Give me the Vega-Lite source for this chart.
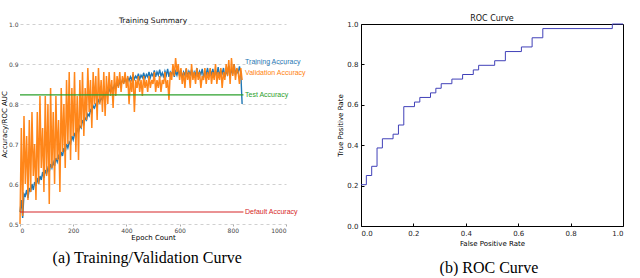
{
  "$schema": "https://vega.github.io/schema/vega-lite/v6.json",
  "background": "white",
  "padding": {"left": 0, "top": 14, "right": 4, "bottom": 0},
  "config": {
    "font": "DejaVu Sans",
    "title": {"font": "DejaVu Sans", "fontWeight": "normal", "color": "#111"},
    "axis": {"labelFont": "DejaVu Sans", "titleFont": "DejaVu Sans", "titleFontWeight": "normal", "labelOverlap": false}
  },
  "datasets": {
    "one": [{}],
    "curve": [
      {"e":0,"t":0.530,"v":0.50},{"e":5,"t":0.560,"v":0.74},{"e":10,"t":0.515,"v":0.52},{"e":15,"t":0.575,"v":0.77},
      {"e":20,"t":0.570,"v":0.60},{"e":25,"t":0.585,"v":0.72},{"e":30,"t":0.565,"v":0.56},{"e":35,"t":0.590,"v":0.76},
      {"e":40,"t":0.580,"v":0.58},{"e":45,"t":0.600,"v":0.78},{"e":50,"t":0.585,"v":0.62},{"e":55,"t":0.605,"v":0.70},
      {"e":60,"t":0.595,"v":0.56},{"e":65,"t":0.615,"v":0.78},{"e":70,"t":0.600,"v":0.60},{"e":75,"t":0.620,"v":0.82},
      {"e":80,"t":0.610,"v":0.64},{"e":85,"t":0.630,"v":0.74},{"e":90,"t":0.615,"v":0.58},{"e":95,"t":0.635,"v":0.82},
      {"e":100,"t":0.625,"v":0.62},{"e":105,"t":0.640,"v":0.80},{"e":110,"t":0.630,"v":0.55},{"e":115,"t":0.650,"v":0.84},
      {"e":120,"t":0.640,"v":0.64},{"e":125,"t":0.655,"v":0.78},{"e":130,"t":0.645,"v":0.60},{"e":135,"t":0.665,"v":0.82},
      {"e":140,"t":0.655,"v":0.66},{"e":145,"t":0.670,"v":0.76},{"e":150,"t":0.660,"v":0.58},{"e":155,"t":0.680,"v":0.84},
      {"e":160,"t":0.670,"v":0.68},{"e":165,"t":0.690,"v":0.80},{"e":170,"t":0.680,"v":0.64},{"e":175,"t":0.700,"v":0.86},
      {"e":180,"t":0.690,"v":0.70},{"e":185,"t":0.705,"v":0.88},{"e":190,"t":0.700,"v":0.66},{"e":195,"t":0.720,"v":0.84},
      {"e":200,"t":0.710,"v":0.72},{"e":205,"t":0.725,"v":0.88},{"e":210,"t":0.720,"v":0.68},{"e":215,"t":0.740,"v":0.82},
      {"e":220,"t":0.730,"v":0.66},{"e":225,"t":0.745,"v":0.86},{"e":230,"t":0.740,"v":0.74},{"e":235,"t":0.760,"v":0.88},
      {"e":240,"t":0.750,"v":0.72},{"e":245,"t":0.765,"v":0.84},{"e":250,"t":0.760,"v":0.76},{"e":255,"t":0.775,"v":0.89},
      {"e":260,"t":0.770,"v":0.78},{"e":265,"t":0.785,"v":0.86},{"e":270,"t":0.780,"v":0.74},{"e":275,"t":0.795,"v":0.88},
      {"e":280,"t":0.790,"v":0.80},{"e":285,"t":0.800,"v":0.87},{"e":290,"t":0.795,"v":0.76},{"e":295,"t":0.810,"v":0.89},
      {"e":300,"t":0.805,"v":0.80},{"e":305,"t":0.815,"v":0.86},{"e":310,"t":0.810,"v":0.78},{"e":315,"t":0.825,"v":0.88},
      {"e":320,"t":0.820,"v":0.77},{"e":325,"t":0.830,"v":0.87},{"e":330,"t":0.825,"v":0.80},{"e":335,"t":0.838,"v":0.88},
      {"e":340,"t":0.830,"v":0.82},{"e":345,"t":0.842,"v":0.86},{"e":350,"t":0.836,"v":0.79},{"e":355,"t":0.848,"v":0.88},
      {"e":360,"t":0.840,"v":0.82},{"e":365,"t":0.852,"v":0.87},{"e":370,"t":0.845,"v":0.84},{"e":375,"t":0.856,"v":0.88},
      {"e":380,"t":0.850,"v":0.83},{"e":385,"t":0.860,"v":0.87},{"e":390,"t":0.853,"v":0.85},{"e":395,"t":0.862,"v":0.88},
      {"e":400,"t":0.855,"v":0.84},{"e":405,"t":0.866,"v":0.87},{"e":410,"t":0.858,"v":0.80},{"e":415,"t":0.868,"v":0.86},
      {"e":420,"t":0.860,"v":0.83},{"e":425,"t":0.874,"v":0.88},{"e":430,"t":0.862,"v":0.78},{"e":435,"t":0.870,"v":0.86},
      {"e":440,"t":0.864,"v":0.84},{"e":445,"t":0.876,"v":0.87},{"e":450,"t":0.862,"v":0.83},{"e":455,"t":0.872,"v":0.86},
      {"e":460,"t":0.866,"v":0.82},{"e":465,"t":0.878,"v":0.87},{"e":470,"t":0.864,"v":0.84},{"e":475,"t":0.874,"v":0.86},
      {"e":480,"t":0.868,"v":0.83},{"e":485,"t":0.880,"v":0.87},{"e":490,"t":0.866,"v":0.84},{"e":495,"t":0.876,"v":0.86},
      {"e":500,"t":0.870,"v":0.85},{"e":505,"t":0.884,"v":0.88},{"e":510,"t":0.868,"v":0.83},{"e":515,"t":0.880,"v":0.86},
      {"e":520,"t":0.872,"v":0.84},{"e":525,"t":0.886,"v":0.87},{"e":530,"t":0.870,"v":0.83},{"e":535,"t":0.878,"v":0.86},
      {"e":540,"t":0.866,"v":0.85},{"e":545,"t":0.882,"v":0.88},{"e":550,"t":0.872,"v":0.84},{"e":555,"t":0.888,"v":0.86},
      {"e":560,"t":0.868,"v":0.81},{"e":565,"t":0.880,"v":0.88},{"e":570,"t":0.874,"v":0.86},{"e":575,"t":0.884,"v":0.90},
      {"e":580,"t":0.868,"v":0.87},{"e":585,"t":0.882,"v":0.915},{"e":590,"t":0.872,"v":0.88},{"e":595,"t":0.886,"v":0.90},
      {"e":600,"t":0.870,"v":0.86},{"e":605,"t":0.884,"v":0.89},{"e":610,"t":0.866,"v":0.85},{"e":615,"t":0.880,"v":0.88},
      {"e":620,"t":0.872,"v":0.84},{"e":625,"t":0.888,"v":0.89},{"e":630,"t":0.868,"v":0.86},{"e":635,"t":0.882,"v":0.88},
      {"e":640,"t":0.874,"v":0.84},{"e":645,"t":0.886,"v":0.90},{"e":650,"t":0.866,"v":0.86},{"e":655,"t":0.880,"v":0.88},
      {"e":660,"t":0.872,"v":0.85},{"e":665,"t":0.890,"v":0.89},{"e":670,"t":0.868,"v":0.86},{"e":675,"t":0.882,"v":0.88},
      {"e":680,"t":0.874,"v":0.84},{"e":685,"t":0.888,"v":0.87},{"e":690,"t":0.866,"v":0.86},{"e":695,"t":0.880,"v":0.89},
      {"e":700,"t":0.874,"v":0.85},{"e":705,"t":0.890,"v":0.88},{"e":710,"t":0.870,"v":0.86},{"e":715,"t":0.884,"v":0.89},
      {"e":720,"t":0.874,"v":0.85},{"e":725,"t":0.888,"v":0.88},{"e":730,"t":0.868,"v":0.86},{"e":735,"t":0.882,"v":0.90},
      {"e":740,"t":0.874,"v":0.85},{"e":745,"t":0.892,"v":0.88},{"e":750,"t":0.870,"v":0.86},{"e":755,"t":0.884,"v":0.89},
      {"e":760,"t":0.876,"v":0.84},{"e":765,"t":0.890,"v":0.88},{"e":770,"t":0.868,"v":0.86},{"e":775,"t":0.882,"v":0.90},
      {"e":780,"t":0.874,"v":0.87},{"e":785,"t":0.896,"v":0.91},{"e":790,"t":0.870,"v":0.85},{"e":795,"t":0.886,"v":0.915},
      {"e":800,"t":0.876,"v":0.87},{"e":805,"t":0.900,"v":0.90},{"e":810,"t":0.872,"v":0.86},{"e":815,"t":0.888,"v":0.89},
      {"e":820,"t":0.876,"v":0.88},{"e":825,"t":0.894,"v":0.85},{"e":830,"t":0.880,"v":0.89},{"e":835,"t":0.800,"v":0.86}
    ],
    "roc": [
      {"fpr":0.0,"tpr":0.2045},{"fpr":0.0204,"tpr":0.25},{"fpr":0.0408,"tpr":0.2955},{"fpr":0.0612,"tpr":0.3864},
      {"fpr":0.0816,"tpr":0.4318},{"fpr":0.1224,"tpr":0.4545},{"fpr":0.1429,"tpr":0.5},{"fpr":0.1633,"tpr":0.5909},
      {"fpr":0.2041,"tpr":0.6136},{"fpr":0.2245,"tpr":0.6364},{"fpr":0.2653,"tpr":0.6591},{"fpr":0.2857,"tpr":0.6818},
      {"fpr":0.3061,"tpr":0.7045},{"fpr":0.3469,"tpr":0.7273},{"fpr":0.3878,"tpr":0.75},{"fpr":0.4286,"tpr":0.7727},
      {"fpr":0.449,"tpr":0.7955},{"fpr":0.5102,"tpr":0.8182},{"fpr":0.551,"tpr":0.8636},{"fpr":0.6122,"tpr":0.8864},
      {"fpr":0.6531,"tpr":0.9318},{"fpr":0.6939,"tpr":0.9773},{"fpr":0.9592,"tpr":1.0},{"fpr":1.0,"tpr":1.0}
    ]
  },
  "hconcat": [
    {
      "title": {"text": "(a) Training/Validation Curve", "orient": "bottom", "anchor": "middle", "font": "Liberation Serif", "fontSize": 16, "color": "#000", "offset": 10, "dx": -6},
      "vconcat": [
        {
          "width": 266,
          "height": 200,
          "view": {"stroke": null},
          "title": {"text": "Training Summary", "fontSize": 7.5, "offset": -3, "frame": "group"},
          "layer": [
            {
              "data": {"name": "curve"},
              "mark": {"type": "line", "color": "#1f77b4", "strokeWidth": 1.4},
              "encoding": {
                "x": {"field": "e", "type": "quantitative", "scale": {"domain": [0, 1000], "nice": false},
                      "axis": {"values": [0, 200, 400, 600, 800, 1000], "tickCount": 10, "format": "d", "title": "Epoch Count", "titleFontSize": 7, "titlePadding": 0, "labelFontSize": 6, "labelColor": "#444", "domain": false, "grid": false, "tickSize": 2, "tickColor": "#aaa", "labelPadding": 1, "labelOverlap": false}},
                "y": {"field": "t", "type": "quantitative", "scale": {"domain": [0.5, 1.0], "nice": false, "zero": false},
                      "axis": {"values": [0.5, 0.6, 0.7, 0.8, 0.9, 1.0], "tickCount": 10, "format": ".1f", "title": "Accuracy/ROC AUC", "titleFontSize": 7, "titlePadding": 1, "labelFontSize": 6, "labelColor": "#444", "domain": false, "ticks": false, "labelPadding": 2, "labelOverlap": false, "grid": true, "gridDash": [3, 3], "gridColor": "#d0d0d0"}}
              }
            },
            {
              "data": {"name": "curve"},
              "mark": {"type": "line", "color": "#ff7f0e", "strokeWidth": 1.5, "opacity": 0.95},
              "encoding": {
                "x": {"field": "e", "type": "quantitative"},
                "y": {"field": "v", "type": "quantitative"}
              }
            },
            {
              "data": {"name": "one"},
              "mark": {"type": "rule", "color": "#2ca02c", "strokeWidth": 1.2},
              "encoding": {"x": {"datum": 0}, "x2": {"datum": 840}, "y": {"datum": 0.823}}
            },
            {
              "data": {"name": "one"},
              "mark": {"type": "rule", "color": "#d62728", "strokeWidth": 1.2},
              "encoding": {"x": {"datum": 0}, "x2": {"datum": 840}, "y": {"datum": 0.53}}
            },
            {
              "data": {"name": "one"},
              "mark": {"type": "text", "text": "Training Accuracy", "align": "left", "baseline": "middle", "font": "Liberation Sans", "fontSize": 7, "color": "#1f77b4"},
              "encoding": {"x": {"datum": 846}, "y": {"datum": 0.905}}
            },
            {
              "data": {"name": "one"},
              "mark": {"type": "text", "text": "Validation Accuracy", "align": "left", "baseline": "middle", "font": "Liberation Sans", "fontSize": 7, "color": "#ff7f0e"},
              "encoding": {"x": {"datum": 846}, "y": {"datum": 0.878}}
            },
            {
              "data": {"name": "one"},
              "mark": {"type": "text", "text": "Test Accuracy", "align": "left", "baseline": "middle", "font": "Liberation Sans", "fontSize": 7, "color": "#2ca02c"},
              "encoding": {"x": {"datum": 846}, "y": {"datum": 0.823}}
            },
            {
              "data": {"name": "one"},
              "mark": {"type": "text", "text": "Default Accuracy", "align": "left", "baseline": "middle", "font": "Liberation Sans", "fontSize": 7, "color": "#d62728"},
              "encoding": {"x": {"datum": 846}, "y": {"datum": 0.53}}
            }
          ]
        }
      ]
    },
    {
      "title": {"text": "(b) ROC Curve", "orient": "bottom", "anchor": "middle", "font": "Liberation Serif", "fontSize": 16, "color": "#000", "offset": 13, "dx": 8},
      "vconcat": [
        {
          "width": 262,
          "height": 202,
          "view": {"stroke": "#000", "strokeWidth": 1},
          "title": {"text": "ROC Curve", "fontSize": 8, "offset": -3, "frame": "group"},
          "data": {"name": "roc"},
          "mark": {"type": "line", "interpolate": "step-after", "color": "#4040b8", "strokeWidth": 1},
          "encoding": {
            "x": {"field": "fpr", "type": "quantitative", "scale": {"domain": [0, 1], "nice": false},
                  "axis": {"values": [0, 0.2, 0.4, 0.6, 0.8, 1.0], "tickCount": 10, "format": ".1f", "title": "False Positive Rate", "titleFontSize": 7, "titlePadding": 3, "labelFontSize": 7, "labelColor": "#222", "domain": false, "grid": false, "tickSize": -3, "tickColor": "#000", "labelPadding": 6, "labelOverlap": false}},
            "y": {"field": "tpr", "type": "quantitative", "scale": {"domain": [0, 1], "nice": false},
                  "axis": {"values": [0, 0.2, 0.4, 0.6, 0.8, 1.0], "tickCount": 10, "format": ".1f", "title": "True Positive Rate", "titleFontSize": 7, "titlePadding": 3, "labelFontSize": 7, "labelColor": "#222", "domain": false, "grid": false, "tickSize": -3, "tickColor": "#000", "labelPadding": 6, "labelOverlap": false}}
          }
        }
      ]
    }
  ],
  "spacing": 30
}
